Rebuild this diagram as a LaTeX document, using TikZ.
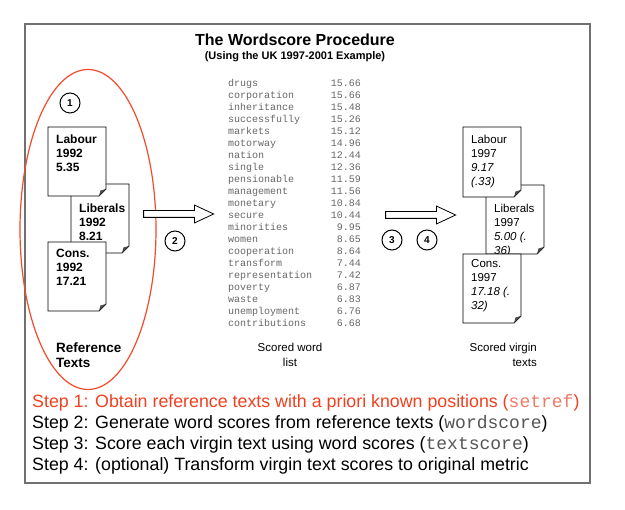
\documentclass[tikz,border=0pt]{standalone}
\usepackage{fontspec}
\setmainfont{Liberation Sans}
\setmonofont{Liberation Mono}
\usetikzlibrary{shapes.arrows}

\definecolor{redline}{HTML}{F24A2A}
\definecolor{stepred}{HTML}{F0401E}
\definecolor{cmdred}{HTML}{F07A68}
\definecolor{listgray}{HTML}{666666}
\definecolor{cmdgray}{HTML}{555555}
\definecolor{framegray}{HTML}{707070}

% page with a folded corner: top left (#1,#2), height #3
\newcommand{\docpage}[3]{%
  \draw[fill=white, line width=0.8pt] (#1,#2) -- ++(58,0) -- ++(0,#3-7) -- ++(-7,7) -- ++(-51,0) -- cycle;
  \fill[black!70] (#1+51,#2+#3) -- (#1+58,#2+#3-7) -- (#1+52.5,#2+#3-5.5) -- cycle;
}
\newcommand{\cmd}[2]{\textcolor{#1}{\fontsize{18}{21}\selectfont\ttfamily #2}}

\begin{document}
\begin{tikzpicture}[x=1pt, y=-1pt,
  every node/.style={inner sep=0pt},
  numcircle/.style={draw, circle, minimum size=20pt, line width=1pt, font=\bfseries\fontsize{10}{12}\selectfont},
  reftxt/.style={align=left, anchor=north west, font=\bfseries\fontsize{12}{14}\selectfont},
  virgintxt/.style={align=left, anchor=north west, font=\fontsize{11.5}{14}\selectfont},
  wordtxt/.style={text=listgray, font=\ttfamily\fontsize{10}{12}\selectfont},
  blockarrow/.style={draw, fill=white, single arrow, single arrow head extend=5.5pt, single arrow tip angle=50, minimum height=70pt, inner sep=3pt, line width=0.8pt},
  steptxt/.style={anchor=base west, font=\fontsize{17.8}{21}\selectfont}]
\useasboundingbox (0,0) rectangle (625,510);

\draw[framegray, line width=1.5pt] (25,24) rectangle (590,483);

\node[font=\bfseries\fontsize{16}{19}\selectfont, anchor=base] (title) at (295,46) {The Wordscore Procedure};
\node[font=\bfseries\fontsize{11}{13}\selectfont, anchor=base] (subtitle) at (295,60) {(Using the UK 1997-2001 Example)};

\draw[redline, line width=1.2pt] (88,229.5) ellipse (68pt and 160pt);

% reference texts
\docpage{71}{184}{69}
\node[reftxt] (lib92) at (79,203.3) {Liberals\\1992\\8.21};
\docpage{48}{127}{69}
\node[reftxt] (lab92) at (56,134.3) {Labour\\1992\\5.35};
\docpage{48}{242}{69}
\node[reftxt] (con92) at (56,249.3) {Cons.\\1992\\17.21};
\node[align=left, anchor=north west, font=\bfseries\fontsize{13.5}{15.5}\selectfont] (reflbl) at (56,342.2) {Reference\\Texts};

\node[numcircle] (c1) at (70,103) {1};
\node[numcircle] (c2) at (175,241) {2};
\node[numcircle] (c3) at (392,240) {3};
\node[numcircle] (c4) at (427,240) {4};

\node[blockarrow] (arrA) at (175,214) {};
\node[blockarrow] (arrB) at (417,215) {};

% scored word list
\foreach \w/\s [count=\i] in {drugs/15.66, corporation/15.66, inheritance/15.48,
  successfully/15.26, markets/15.12, motorway/14.96, nation/12.44, single/12.36,
  pensionable/11.59, management/11.56, monetary/10.84, secure/10.44,
  minorities/9.95, women/8.65, cooperation/8.64, transform/7.44,
  representation/7.42, poverty/6.87, waste/6.83, unemployment/6.76,
  contributions/6.68}
{
  \node[wordtxt, anchor=base west] (word\i) at (228,75+12*\i) {\w};
  \node[wordtxt, anchor=base east] (score\i) at (361,75+12*\i) {\s};
}
\node[align=center, anchor=north, font=\fontsize{11.5}{15}\selectfont] (listlbl) at (290,342.6) {Scored word\\list};

% virgin texts
\docpage{486}{185}{69}
\node[virgintxt] (lib97) at (494,203.6) {Liberals\\1997\\\textit{5.00 (.}\\\textit{36)}};
\docpage{463}{127}{70}
\node[virgintxt] (lab97) at (471,134.6) {Labour\\1997\\\textit{9.17}\\\textit{(.33)}};
\docpage{463}{254}{69}
\node[virgintxt] (con97) at (471,259.6) {Cons.\\1997\\\textit{17.18 (.}\\\textit{32)}};
\node[align=right, anchor=north east, font=\fontsize{11.5}{15}\selectfont] (virginlbl) at (537,342.6) {Scored virgin\\texts};

% steps
\node[steptxt, text=stepred] (step1) at (32,408) {Step 1: Obtain reference texts with a priori known positions (\cmd{cmdred}{setref})};
\node[steptxt] (step2) at (32,429) {Step 2: Generate word scores from reference texts (\cmd{cmdgray}{wordscore})};
\node[steptxt] (step3) at (32,450) {Step 3: Score each virgin text using word scores (\cmd{cmdgray}{textscore})};
\node[steptxt] (step4) at (32,471) {Step 4: (optional) Transform virgin text scores to original metric};
\end{tikzpicture}
\end{document}
